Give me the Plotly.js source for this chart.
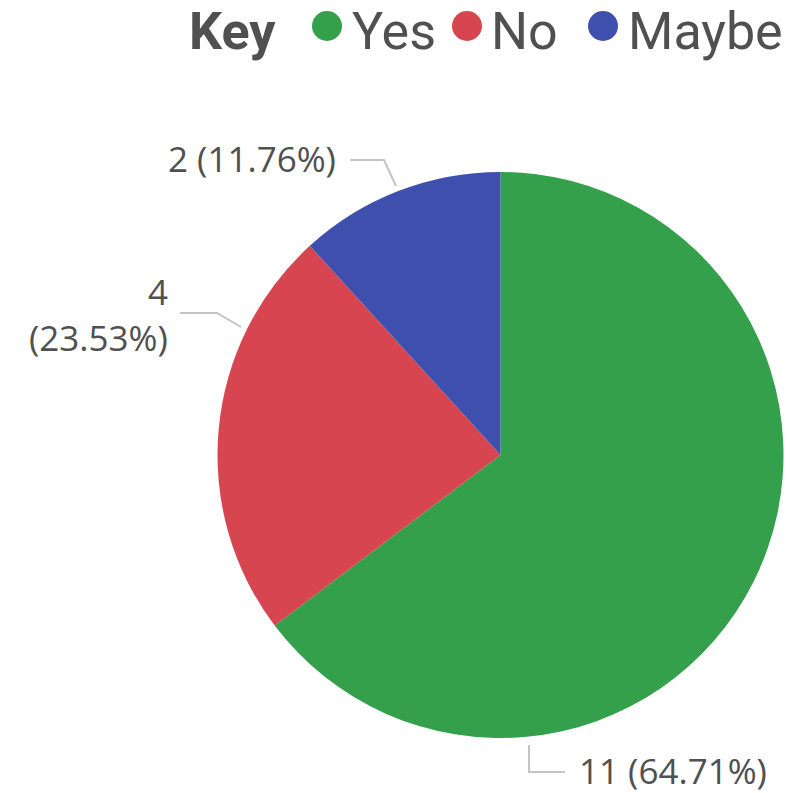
<!DOCTYPE html>
<html>
<head>
<meta charset="utf-8">
<script src="https://cdn.plot.ly/plotly-3.0.1.min.js"></script>
<style>html,body{margin:0;padding:0;background:#fff;}#chart{width:802px;height:793px;}</style>
</head>
<body>
<div id="chart"></div>
<script>
const labels = ['Yes', 'No', 'Maybe'];
const values = [11, 4, 2];
const colors = ['#35a04b', '#d64550', '#3f4fae'];
const legendTitle = 'Key';

const W = 802, H = 793;
const px = x => x / W;
const py = y => 1 - y / H;
const total = values.reduce((a, b) => a + b, 0);
const pct = values.map(v => (v / total * 100).toFixed(2) + '%');

const textColor = '#505050';
const font = 'Open Sans, Noto Sans, sans-serif';
const legendFont = 'Roboto, Open Sans, sans-serif';

// label layout (pixel positions of text + leader lines)
const labelLayout = [
  {lines: [[577, 770, 'left']], path: [[529, 745], [529, 772], [565, 772]]},
  {lines: [[170, 292, 'right', 0], [170, 337, 'right', 1]], path: [[180, 313], [217, 313], [241, 327]]},
  {lines: [[338, 158, 'right']], path: [[350, 160], [384, 160], [396, 186]]}
];

const annotations = [];
const shapes = [];
values.forEach((v, i) => {
  const full = v + ' (' + pct[i] + ')';
  const parts = [String(v), '(' + pct[i] + ')'];
  const L = labelLayout[i];
  L.lines.forEach(ln => {
    annotations.push({
      xref: 'paper', yref: 'paper', x: px(ln[0]), y: py(ln[1]),
      xanchor: ln[2], yanchor: 'middle', showarrow: false,
      text: ln.length > 3 ? parts[ln[3]] : full,
      font: {family: font, size: 35, color: textColor}
    });
  });
  shapes.push({
    type: 'path', xref: 'paper', yref: 'paper',
    path: L.path.map((p, k) => (k ? 'L' : 'M') + px(p[0]) + ',' + py(p[1])).join(' '),
    line: {color: '#c4c4c4', width: 2}
  });
});

// legend drawn as annotations + circle shapes
annotations.push({
  xref: 'paper', yref: 'paper', x: px(188), y: 1, xanchor: 'left', yanchor: 'top',
  showarrow: false, borderpad: 0, text: '<b>' + legendTitle + '</b>',
  font: {family: legendFont, size: 52, color: textColor}
});
const legendPos = [[327, 351], [467, 490], [603, 627]];
labels.forEach((lab, i) => {
  const [cx, tx] = legendPos[i];
  shapes.push({
    type: 'circle', xref: 'paper', yref: 'paper',
    x0: px(cx - 15), x1: px(cx + 15), y0: py(26 + 15), y1: py(26 - 15),
    fillcolor: colors[i], line: {width: 0}
  });
  annotations.push({
    xref: 'paper', yref: 'paper', x: px(tx), y: 1, xanchor: 'left', yanchor: 'top',
    showarrow: false, borderpad: 0, text: lab,
    font: {family: legendFont, size: 52, color: textColor}
  });
});

const cx = 500.5, cy = 455, r = 283;
const data = [{
  type: 'pie',
  labels: labels,
  values: values,
  marker: {colors: colors, line: {width: 0}},
  sort: false,
  direction: 'clockwise',
  rotation: 0,
  textinfo: 'none',
  showlegend: false,
  domain: {x: [px(cx - r), px(cx + r)], y: [py(cy + r), py(cy - r)]}
}];

const layout = {
  width: W, height: H,
  margin: {l: 0, r: 0, t: 0, b: 0},
  paper_bgcolor: '#ffffff',
  showlegend: false,
  annotations: annotations,
  shapes: shapes
};

Plotly.newPlot('chart', data, layout, {displayModeBar: false, staticPlot: true});
</script>
</body>
</html>
